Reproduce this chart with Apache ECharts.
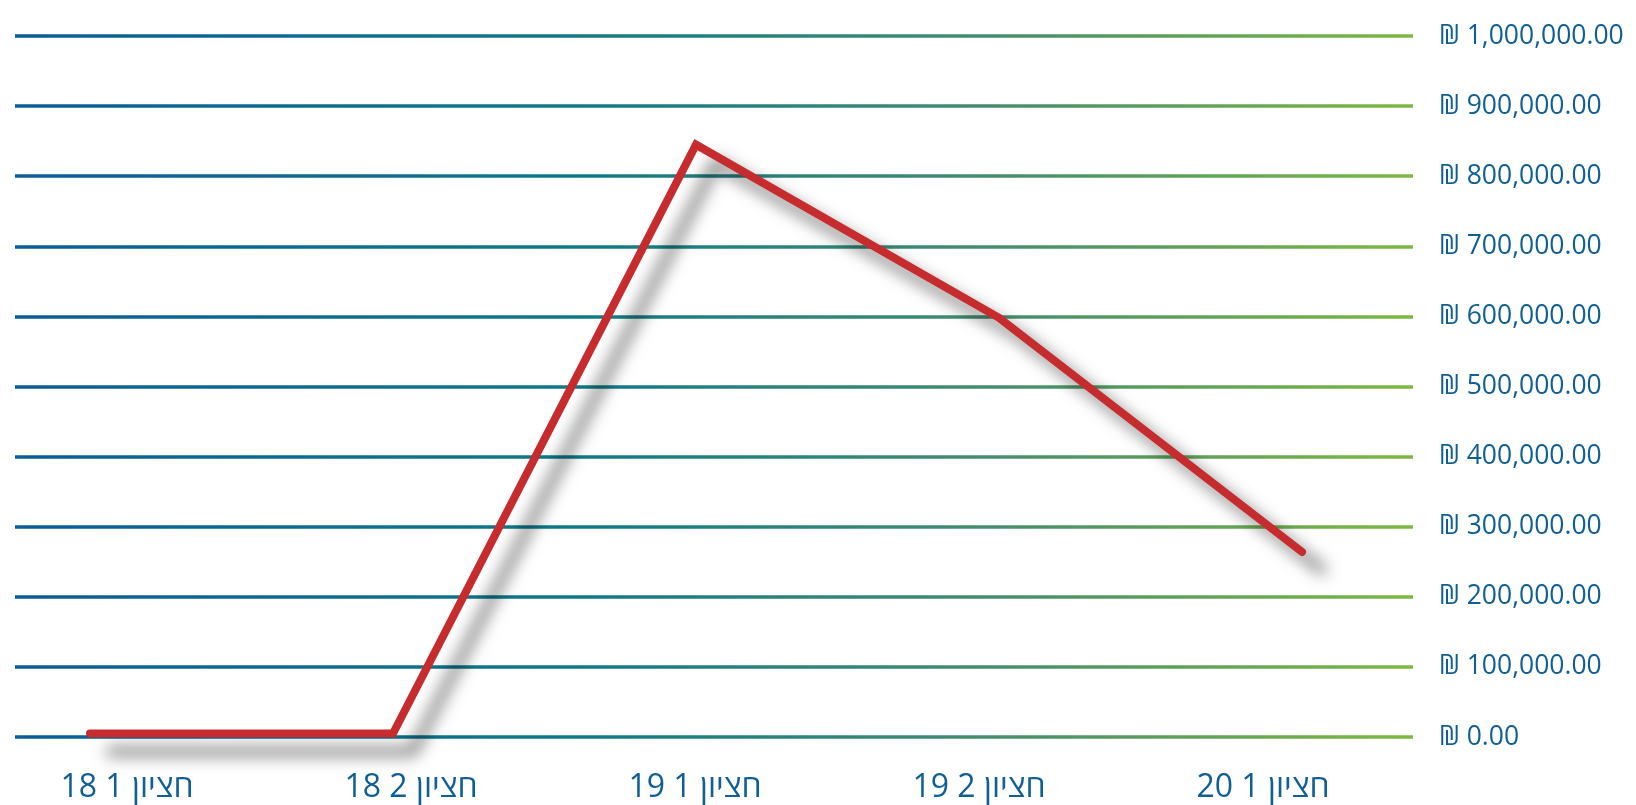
<!DOCTYPE html>
<html>
<head>
<meta charset="utf-8">
<script src="https://cdn.jsdelivr.net/npm/echarts@6/dist/echarts.min.js"></script>
<style>
html,body{margin:0;padding:0;background:#fff;}
#chart{width:1636px;height:805px;}
</style>
</head>
<body>
<div id="chart"></div>
<script>
const categories = ['חציון 1 18', 'חציון 2 18', 'חציון 1 19', 'חציון 2 19', 'חציון 1 20'];
const values = [5000, 5000, 845000, 598000, 264000];
const yMin = 0;
const yMax = 1000000;
const yInterval = 100000;

const FONT = "'Open Sans', 'DejaVu Sans', sans-serif";
const TEXT_COLOR = '#0f5f94';

const chart = echarts.init(document.getElementById('chart'), null, {renderer: 'canvas'});

const gridGradient = new echarts.graphic.LinearGradient(15, 0, 1413, 0, [
  {offset: 0, color: '#0b5c97'},
  {offset: 0.4, color: '#0f7986'},
  {offset: 0.7, color: '#458d6e'},
  {offset: 1, color: '#7db842'}
], true);

const hiddenY = {type: 'value', min: yMin, max: yMax, interval: yInterval, show: false};

chart.setOption({
  animation: false,
  backgroundColor: '#ffffff',
  grid: [
    {left: 15, right: 223, top: 36, bottom: 68},
    // line grid: one extra (empty) category slot on the right so the shadow is not cut
    {left: 90, right: 31, top: 36, bottom: 68},
    {left: 127, right: 373, top: 36, bottom: 68}
  ],
  xAxis: [
    {gridIndex: 0, type: 'category', data: categories, show: false},
    {gridIndex: 1, type: 'category', data: categories, boundaryGap: false, min: 0, max: 5, show: false},
    {gridIndex: 2, type: 'category', data: categories, boundaryGap: false,
      axisLine: {show: false}, axisTick: {show: false}, splitLine: {show: false},
      axisLabel: {
        margin: 35,
        fontSize: 32,
        fontFamily: FONT,
        color: TEXT_COLOR,
        formatter: function (v) { return '\u202B' + v + '\u202C'; }
      }
    }
  ],
  yAxis: [
    {gridIndex: 0, type: 'value', position: 'right', min: yMin, max: yMax, interval: yInterval,
      axisLine: {show: false}, axisTick: {show: false},
      splitLine: {show: true, lineStyle: {color: gridGradient, width: 3.5}},
      axisLabel: {
        margin: 26,
        align: 'left',
        fontSize: 26.5,
        fontFamily: FONT,
        color: TEXT_COLOR,
        formatter: function (v) {
          return '₪ ' + v.toLocaleString('en-US', {minimumFractionDigits: 2, maximumFractionDigits: 2});
        }
      }
    },
    Object.assign({gridIndex: 1}, hiddenY),
    Object.assign({gridIndex: 2}, hiddenY)
  ],
  series: [
    {
      type: 'line',
      xAxisIndex: 1,
      yAxisIndex: 1,
      data: values,
      symbol: 'none',
      clip: false,
      lineStyle: {
        color: '#c62b2d',
        width: 8,
        cap: 'round',
        join: 'miter',
        shadowColor: 'rgba(0,0,0,0.6)',
        shadowBlur: 16,
        shadowOffsetX: 20,
        shadowOffsetY: 18
      }
    }
  ]
});
</script>
</body>
</html>
